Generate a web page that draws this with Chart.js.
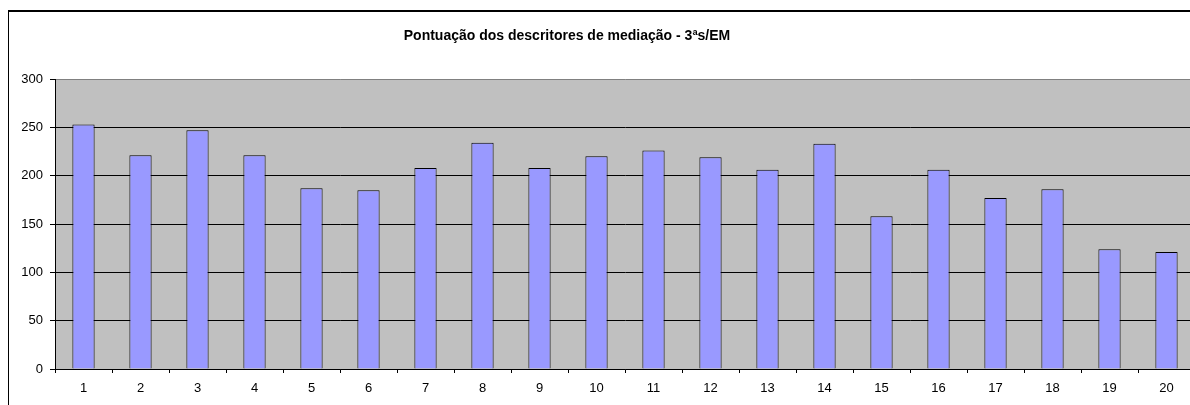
<!DOCTYPE html>
<html>
<head>
<meta charset="utf-8">
<script src="https://cdn.jsdelivr.net/npm/chart.js@4"></script>
<style>
    html, body { margin: 0; padding: 0; background: #fff; overflow: hidden; }
    #wrap { position: relative; width: 1200px; height: 405px; }
    #frame { position: absolute; left: 8px; top: 10px; width: 1300px; height: 500px;
             border-left: 1px solid #000; border-top: 2px solid #000; pointer-events: none; }
</style>
</head>
<body>
<div id="wrap">
    <canvas id="myChart" width="1200" height="405"></canvas>
    <div id="frame"></div>
</div>
<script>
const chartTitle = 'Pontuação dos descritores de mediação - 3ªs/EM';
const categories = ['1', '2', '3', '4', '5', '6', '7', '8', '9', '10',
    '11', '12', '13', '14', '15', '16', '17', '18', '19', '20'];
const scores = [253, 221, 247, 221, 187, 185, 208, 234, 208, 220,
    226, 219, 206, 233, 158, 206, 177, 186, 124, 121];
const yMin = 0;
const yMax = 300;
const yStep = 50;

const fontFamily = '"Liberation Sans", Arial, sans-serif';

// fond gris de la zone de tracé
const plotBackground = {
    id: 'plotBackground',
    beforeDraw(chart) {
        const { ctx, chartArea } = chart;
        ctx.save();
        ctx.fillStyle = '#C0C0C0';
        ctx.fillRect(chartArea.left, chartArea.top, chartArea.right - chartArea.left, chartArea.bottom - chartArea.top);
        ctx.restore();
    }
};

// titre placé comme dans l'original (légèrement à gauche du centre)
const titlePlugin = {
    id: 'titlePlugin',
    afterDraw(chart) {
        const ctx = chart.ctx;
        ctx.save();
        ctx.font = 'bold 14px ' + fontFamily;
        ctx.fillStyle = '#000';
        ctx.textAlign = 'center';
        ctx.textBaseline = 'middle';
        ctx.fillText(chartTitle, 567, 36);
        ctx.restore();
    }
};

const font = { family: fontFamily, size: 13 };

const ctx = document.getElementById('myChart').getContext('2d');
const myChart = new Chart(ctx, {
    type: 'bar',
    data: {
        labels: categories,
        datasets: [{
            data: scores,
            backgroundColor: '#9999FF',
            borderColor: '#000000',
            borderWidth: 1,
            categoryPercentage: 1,
            barPercentage: 0.39
        }]
    },
    options: {
        responsive: false,
        animation: false,
        layout: { padding: { left: 0, right: 5, top: 79, bottom: 0 } },
        plugins: {
            legend: { display: false },
            tooltip: { enabled: false },
            title: { display: false }
        },
        scales: {
            x: {
                offset: true,
                grid: {
                    offset: true,
                    drawOnChartArea: false,
                    tickLength: 4,
                    tickColor: '#000'
                },
                border: { color: '#000' },
                ticks: { color: '#000', font: font, padding: 8, maxRotation: 0 },
                afterFit(scale) { scale.height = 36; }
            },
            y: {
                min: yMin,
                max: yMax,
                ticks: { stepSize: yStep, color: '#000', font: font, padding: 7 },
                grid: {
                    color: (c) => (c.tick && c.tick.value === yMax ? '#808080' : '#000'),
                    tickColor: '#000',
                    tickLength: 5
                },
                border: { color: '#000' },
                afterFit(scale) { scale.width = 55; }
            }
        }
    },
    plugins: [plotBackground, titlePlugin]
});
</script>
</body>
</html>
